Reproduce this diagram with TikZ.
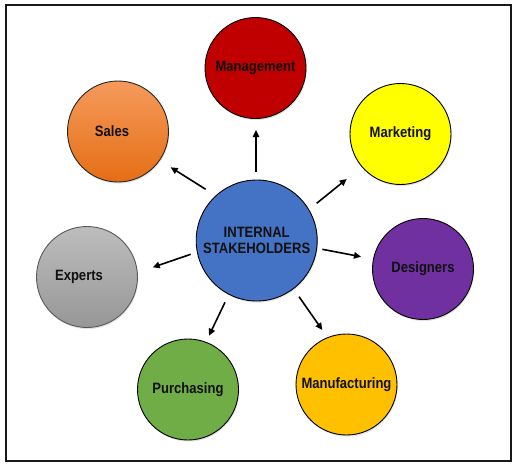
\documentclass[tikz,border=0pt]{standalone}
\usepackage{fontspec}
\setmainfont{Liberation Sans}
\newfontfamily\labfont{Liberation Sans}[FakeStretch=0.87]
\usetikzlibrary{arrows.meta,shadows}
\definecolor{mgmtred}{HTML}{C00000}
\definecolor{salestop}{HTML}{F59A5C}
\definecolor{salesbot}{HTML}{E56E14}
\definecolor{mktyellow}{HTML}{FFFF00}
\definecolor{despurple}{HTML}{7030A0}
\definecolor{manuorange}{HTML}{FFC000}
\definecolor{purchgreen}{HTML}{70AD47}
\definecolor{exptop}{HTML}{BDBDBD}
\definecolor{expbot}{HTML}{979797}
\definecolor{centerblue}{HTML}{4472C4}
\definecolor{txt}{HTML}{111111}
\tikzset{
  stake/.style={circle, draw=black, line width=0.9pt, minimum size=101pt, inner sep=0pt,
    font=\labfont\bfseries\fontsize{15}{16.3}\selectfont, text=txt,
    drop shadow={opacity=0.22, shadow xshift=0.8pt, shadow yshift=-1.6pt}},
  hub/.style={stake, minimum size=121pt, align=center},
  arr/.style={line width=1.6pt, -{Triangle[length=7pt,width=6.5pt]}, black}
}
\begin{document}
\begin{tikzpicture}[x=1pt,y=1pt]
\useasboundingbox (0,0) rectangle (512,-464);
\draw[line width=2pt, black!90] (6,-4.5) rectangle (510.9,-460.5);

\node[hub, fill=centerblue] (hub) at (256.7,-240.5) {INTERNAL\\STAKEHOLDERS};
\node[stake, fill=mgmtred] (mgmt) at (255.5,-68) {Management};
\node[stake, top color=salestop, bottom color=salesbot, draw=black!85] (sales) at (118,-131.5) {Sales\rule{12pt}{0pt}};
\node[stake, fill=mktyellow] (mkt) at (400.5,-134) {Marketing};
\node[stake, fill=despurple] (des) at (423,-269) {Designers};
\node[stake, fill=manuorange] (manu) at (346.5,-384.5) {Manufacturing};
\node[stake, fill=purchgreen] (purch) at (188,-389.5) {Purchasing};
\node[stake, top color=exptop, bottom color=expbot, draw=black!65] (exp) at (87,-277) {Experts\rule{16pt}{0pt}};

\coordinate (hmgmt) at (256,-171.7);   \coordinate (tmgmt) at (256,-130);
\coordinate (hsales) at (205.7,-189.3); \coordinate (tsales) at (170.7,-167.3);
\coordinate (hmkt) at (316.7,-203.3);   \coordinate (tmkt) at (346.7,-179);
\coordinate (hdes) at (322.3,-249.3);   \coordinate (tdes) at (361,-256.7);
\coordinate (hexp) at (190.7,-254.3);   \coordinate (texp) at (152.7,-267.3);
\coordinate (hpurch) at (225,-302.3);   \coordinate (tpurch) at (209,-335.7);
\coordinate (hmanu) at (299,-296.7);    \coordinate (tmanu) at (322.3,-330);

\draw[arr] (hmgmt) -- (tmgmt);
\draw[arr] (hsales) -- (tsales);
\draw[arr] (hmkt) -- (tmkt);
\draw[arr] (hdes) -- (tdes);
\draw[arr] (hexp) -- (texp);
\draw[arr] (hpurch) -- (tpurch);
\draw[arr] (hmanu) -- (tmanu);
\end{tikzpicture}
\end{document}
